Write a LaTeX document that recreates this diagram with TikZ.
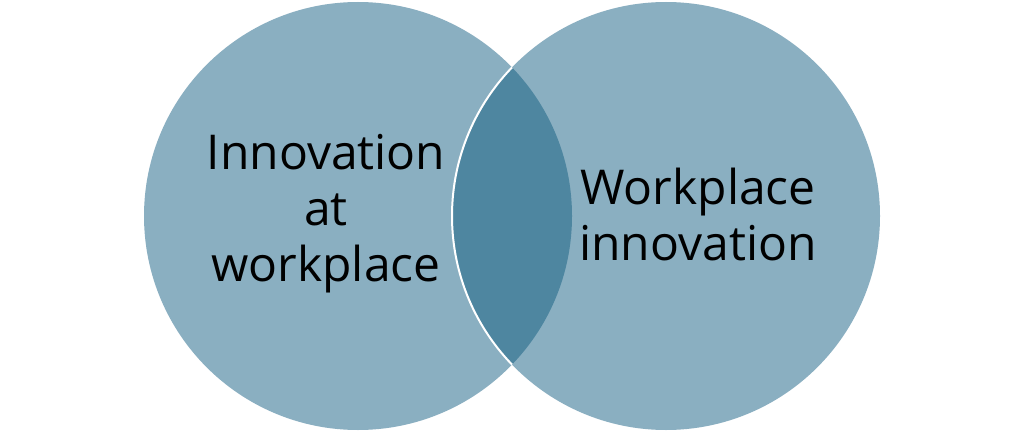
\documentclass[tikz,border=0pt]{standalone}
\usepackage{fontspec}
\setmainfont{Open Sans}
\definecolor{circfill}{HTML}{8AAFC1}
\definecolor{lensfill}{HTML}{4E86A0}
\tikzset{
  circ/.style={fill=circfill, draw=none},
  lbl/.style={align=center, font=\fontsize{48}{56}\selectfont, text=black, inner sep=0pt}
}
\begin{document}
\begin{tikzpicture}[x=1pt,y=-1pt]
\useasboundingbox (0,0) rectangle (1024,433);
\fill[white] (0,0) rectangle (1024,433);
\coordinate (cl) at (358,216);
\coordinate (cr) at (666,216);
\fill[circ] (cl) circle (214);
\fill[circ] (cr) circle (214);
\begin{scope}
  \clip (cl) circle (214);
  \fill[lensfill] (cr) circle (214);
\end{scope}
\begin{scope}
  \clip (cl) circle (214);
  \draw[white, line width=2] (cr) circle (214);
\end{scope}
\node[lbl] (left) at (326,214) {Innovation\\at\\workplace};
\node[lbl] (right) at (698,214) {Workplace\\innovation};
\end{tikzpicture}
\end{document}
